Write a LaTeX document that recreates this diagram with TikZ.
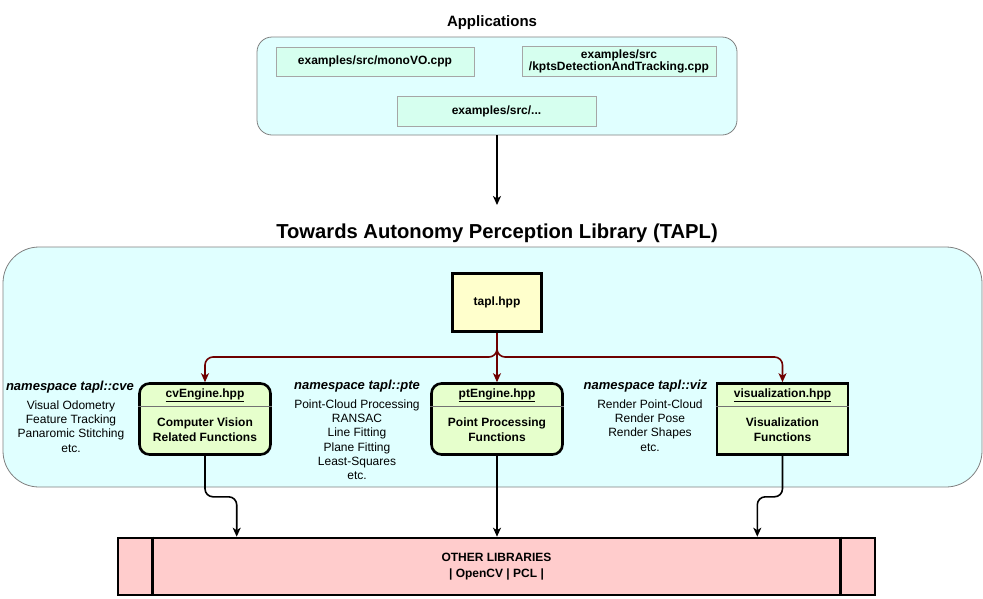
\documentclass[tikz,border=0pt]{standalone}
\usepackage{fontspec}
\setmainfont{Liberation Sans}
\usepackage{tikz}
\usetikzlibrary{positioning}
\usetikzlibrary{arrows.meta}

\definecolor{groupfill}{HTML}{E0FFFF}
\definecolor{appfill}{HTML}{D6FFEF}
\definecolor{taplfill}{HTML}{FFFFCC}
\definecolor{enginefill}{HTML}{E6FFCC}
\definecolor{libfill}{HTML}{FFCCCC}
\definecolor{linkred}{HTML}{6F0000}

\begin{document}
\begin{tikzpicture}
	[x=1pt,y=-1pt,align=center,
	 every node/.style={font=\fontsize{12}{14.3}\selectfont},
	 heading/.style={inner sep=0pt,font=\bfseries\fontsize{15}{18}\selectfont},
	 title/.style={inner sep=0pt,font=\bfseries\fontsize{20.2}{24}\selectfont},
	 group/.style={rectangle,draw=black!50,line width=0.8pt,fill=groupfill},
	 app/.style={rectangle,draw=black!35,line width=0.8pt,fill=appfill,font=\bfseries\fontsize{12}{12.5}\selectfont,minimum height=29pt},
	 taplbox/.style={rectangle,draw,line width=3pt,fill=taplfill,font=\bfseries\fontsize{12}{14}\selectfont,minimum width=89pt,minimum height=58pt},
	 engine/.style={rectangle,draw,line width=2.6pt,fill=enginefill,minimum width=131pt,minimum height=71pt},
	 fname/.style={inner sep=0pt,font=\bfseries\fontsize{12}{14}\selectfont},
	 ftext/.style={inner sep=0pt,font=\bfseries\fontsize{12}{14.5}\selectfont},
	 divider/.style={draw=black!55,line width=1.2pt},
	 nshead/.style={inner sep=0pt,font=\bfseries\itshape\fontsize{13}{15}\selectfont},
	 nslist/.style={inner sep=0pt},
	 lib/.style={rectangle,draw,line width=2.6pt,fill=libfill,font=\bfseries\fontsize{12}{16}\selectfont,minimum width=757pt,minimum height=57pt},
	 link/.style={draw=linkred,line width=1.6pt,-{Stealth[length=9pt,width=8pt,inset=2.5pt]}},
	 flow/.style={draw,line width=1.6pt,-{Stealth[length=9pt,width=8pt,inset=2.5pt]}}]
	\useasboundingbox (0,0) rectangle (983,598);
	% applications
	\node[heading] (apptitle) at (492,23) {Applications};
	\node[group,rounded corners=15pt,minimum width=480pt,minimum height=98pt] (apps) at (497,86) {};
	\node[app,minimum width=198pt] (monovo) at (375,61.5) {examples/src/monoVO.cpp};
	\node[app,minimum width=194pt] (kpts) at (619,61.5) {examples/src\\/kptsDetectionAndTracking.cpp};
	\node[app,minimum width=199pt,minimum height=30pt] (more) at (496.5,111) {examples/src/...};
	% library
	\node[title] (title) at (497,233) {Towards Autonomy Perception Library (TAPL)};
	\node[group,rounded corners=36pt,minimum width=979pt,minimum height=240pt] (taplgroup) at (492.5,367) {};
	\node[taplbox] (tapl) at (497,302.5) {tapl.hpp};
	\node[engine,rounded corners=10pt] (cve) at (205,419) {};
	\node[fname] (cvefile) [below=6pt of cve.north] {\underline{cvEngine.hpp}};
	\draw[divider] ([yshift=-24pt]cve.north west) -- ([yshift=-24pt]cve.north east);
	\node[ftext] (cvetext) at ([yshift=-10.5pt]cve.center) {Computer Vision\\Related Functions};
	\node[engine,rounded corners=10pt] (pte) at (497,419) {};
	\node[fname] (ptefile) [below=6pt of pte.north] {\underline{ptEngine.hpp}};
	\draw[divider] ([yshift=-24pt]pte.north west) -- ([yshift=-24pt]pte.north east);
	\node[ftext] (ptetext) at ([yshift=-10.5pt]pte.center) {Point Processing\\Functions};
	\node[engine] (viz) at (782.5,419) {};
	\node[fname] (vizfile) [below=6pt of viz.north] {\underline{visualization.hpp}};
	\draw[divider] ([yshift=-24pt]viz.north west) -- ([yshift=-24pt]viz.north east);
	\node[ftext] (viztext) at ([yshift=-10.5pt]viz.center) {Visualization\\Functions};
	% namespaces
	\node[nshead] (cvens) at (70,387) {namespace tapl::cve};
	\node[nslist] (cvelist) [below=7pt of cvens, xshift=1pt] {Visual Odometry\\Feature Tracking\\Panaromic Stitching\\etc.};
	\node[nshead] (ptens) at (357,386) {namespace tapl::pte};
	\node[nslist] (ptelist) [below=7pt of ptens] {Point-Cloud Processing\\RANSAC\\Line Fitting\\Plane Fitting\\Least-Squares\\etc.};
	\node[nshead] (vizns) at (645.5,386) {namespace tapl::viz};
	\node[nslist] (vizlist) [below=7pt of vizns, xshift=4.5pt] {Render Point-Cloud\\Render Pose\\Render Shapes\\etc.};
	% other libraries
	\node[lib] (libs) at (496.5,566.5) {OTHER LIBRARIES\\| OpenCV | PCL |};
	\draw[line width=2.6pt] ([xshift=36pt]libs.north west) -- ([xshift=36pt]libs.south west);
	\draw[line width=2.6pt] ([xshift=-36pt]libs.north east) -- ([xshift=-36pt]libs.south east);
	% connectors
	\coordinate (apptip) at (497,205);
	\coordinate (split) at (497,357);
	\coordinate (cvein) at ([xshift=120pt]libs.north west);
	\coordinate (vizin) at ([xshift=-119pt]libs.north east);
	\draw[flow] (apps.south) -- (apptip);
	\draw[link] (tapl.south) -- (pte.north);
	\draw[link,rounded corners=8pt] (tapl.south) -- (split) -| (cve.north);
	\draw[link,rounded corners=8pt] (tapl.south) -- (split) -| (viz.north);
	\draw[flow,rounded corners=8pt] (cve.south) -- ++(0,41) -| (cvein);
	\draw[flow] (pte.south) -- (pte.south |- libs.north);
	\draw[flow,rounded corners=8pt] (viz.south) -- ++(0,41) -| (vizin);
\end{tikzpicture}
\end{document}
